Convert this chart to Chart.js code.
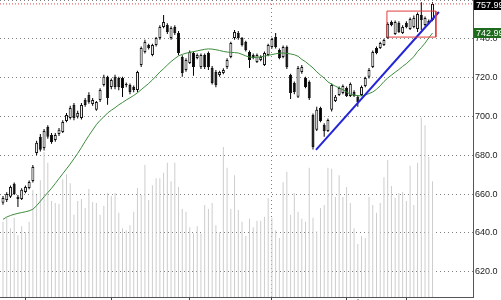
<!DOCTYPE html>
<html>
<head>
<meta charset="utf-8">
<script src="https://cdn.jsdelivr.net/npm/chart.js@4.4.1/dist/chart.umd.min.js"></script>
<style>
  html, body { margin:0; padding:0; background:#fff; overflow:hidden; }
  canvas { display:block; }
</style>
</head>
<body>
<canvas id="chart" width="501" height="300"></canvas>
<script>
// ── DATA ─────────────────────────────────────────────────────────
// one entry per trading day, oldest first
const openP = [
  655.5,657.0,658.6,665.3,658.6,657.5,661.1,663.2,666.8,681.2,
  689.5,683.8,694.6,690.5,687.9,691.0,692.0,697.7,699.2,705.9,
  699.8,699.2,708.5,711.1,706.4,703.4,708.5,716.2,720.4,715.2,
  720.4,719.8,719.8,716.2,716.2,715.2,713.7,726.5,733.2,736.8,
  731.7,736.8,740.4,746.1,747.1,740.4,746.1,743.0,730.6,724.0,
  727.6,732.7,730.1,725.5,731.7,732.7,725.0,722.9,721.4,722.4,
  725.5,730.6,740.4,743.0,740.4,738.4,733.2,731.7,728.1,729.1,
  726.5,731.7,735.8,740.9,734.3,730.6,735.8,721.4,717.3,710.1,
  722.9,719.8,717.8,700.8,693.1,704.4,695.6,692.5,703.4,708.0,
  711.1,712.1,714.7,710.6,712.6,710.1,711.1,715.7,720.4,725.5,
  735.3,735.3,736.8,740.4,748.7,742.5,748.2,743.0,748.2,745.1,
  746.1,745.1,752.3,747.1,748.2,749.7
];
const highP = [
  659.0,661.0,664.5,666.0,659.5,663.0,664.5,667.0,675.0,687.5,
  691.0,693.5,695.5,691.5,691.5,694.0,698.0,701.8,705.5,707.0,
  703.0,707.0,709.5,712.5,709.5,708.0,714.5,721.5,721.0,719.5,
  721.5,720.5,720.5,717.5,717.0,716.0,723.5,736.0,739.5,737.5,
  737.5,741.0,747.0,752.3,748.0,746.5,747.0,744.0,731.5,730.0,
  734.0,733.5,732.5,732.5,732.5,733.5,726.0,724.0,723.5,724.8,
  730.0,738.5,744.5,744.0,741.0,739.0,734.0,732.5,732.5,731.5,
  733.5,737.5,740.5,743.0,735.0,736.5,736.5,722.0,718.0,726.0,
  726.5,720.5,718.5,701.5,705.0,705.0,696.5,699.0,717.0,711.0,
  715.5,716.5,715.5,717.5,713.5,711.0,716.0,720.5,725.0,734.0,
  736.0,738.5,740.0,748.5,749.5,749.5,749.0,747.0,749.0,751.0,
  752.0,753.5,758.8,751.5,750.0,758.8
];
const lowP = [
  654.5,656.0,658.0,659.5,653.4,657.0,660.5,662.5,666.0,680.0,
  682.0,682.5,688.5,686.0,687.0,690.0,691.5,697.0,698.5,698.0,
  699.0,698.5,705.0,706.5,705.5,703.0,707.5,715.5,706.0,714.0,
  714.0,713.5,710.0,715.0,711.5,712.5,712.5,725.5,732.5,734.5,
  731.0,736.0,739.5,745.5,742.5,739.5,742.0,731.5,720.5,723.0,
  727.0,721.0,729.5,724.5,724.5,724.0,716.5,715.0,720.5,721.8,
  724.5,730.0,739.5,739.5,736.0,733.5,725.0,729.5,727.5,728.5,
  726.0,731.0,735.0,735.0,729.5,730.0,724.5,709.0,711.5,709.5,
  722.0,714.5,708.5,683.0,692.5,697.0,689.5,692.0,702.5,707.5,
  710.5,711.5,710.0,710.0,710.0,705.0,710.5,715.0,719.5,725.0,
  732.0,734.8,736.3,740.0,746.5,742.0,743.0,742.5,745.5,744.5,
  745.5,743.5,744.5,746.5,747.5,749.0
];
const closeP = [
  658.0,660.1,663.7,660.1,657.5,662.2,663.7,666.3,674.0,686.4,
  682.8,692.5,689.5,686.9,690.5,693.1,697.2,700.8,704.4,699.2,
  701.8,705.9,705.9,707.5,708.5,707.5,713.7,720.4,709.5,718.8,
  715.2,715.2,714.7,716.7,712.6,713.7,722.9,735.3,738.4,735.3,
  736.8,740.4,746.1,748.7,743.5,745.6,743.0,732.7,722.4,729.1,
  733.2,725.5,731.7,731.7,725.5,725.5,717.3,716.2,722.9,724.0,
  729.1,737.9,743.5,740.4,736.8,734.3,729.1,730.1,731.7,730.6,
  732.7,736.8,739.9,735.8,730.1,735.8,725.5,712.1,712.6,725.0,
  725.5,715.2,709.5,684.3,703.4,697.7,692.5,698.2,716.2,710.1,
  714.7,715.7,710.6,716.7,710.6,707.5,715.2,719.8,724.0,733.2,
  732.7,737.9,739.4,747.6,747.1,748.7,743.5,746.1,746.1,750.2,
  750.7,752.8,749.7,750.7,749.2,757.99
];
// volume, millions of shares
const volume = [
  1.52,1.60,1.39,1.60,1.25,1.43,1.31,1.52,2.16,2.06,
  2.36,2.93,2.71,1.94,1.90,1.88,2.38,2.48,2.30,1.66,
  1.94,1.98,1.80,2.18,1.92,1.90,1.66,1.84,2.10,2.04,
  2.10,1.70,1.39,1.35,1.45,1.72,2.20,2.06,2.67,1.96,
  2.26,2.40,2.40,2.51,2.71,2.34,2.71,2.22,1.78,1.72,
  1.41,1.29,1.43,1.29,1.86,1.78,1.90,1.45,1.31,3.03,
  2.61,1.78,2.46,1.76,1.52,1.23,1.58,1.41,1.54,1.54,
  1.62,2.00,1.60,1.35,1.19,2.32,2.53,1.66,2.10,1.72,
  1.58,1.52,2.61,1.60,1.33,1.80,1.86,2.61,2.59,2.02,
  2.46,2.02,2.22,1.90,1.39,1.07,1.23,1.19,2.02,1.86,
  1.70,1.90,2.42,2.77,2.24,2.00,2.10,2.12,1.94,2.65,
  1.86,2.71,3.62,3.47,2.83,2.34
];
// moving average as drawn on the chart
const ma20 = [
  647.0,648.2,649.0,649.6,650.1,650.5,650.9,651.4,652.2,654.0,
  656.3,658.6,660.8,663.0,665.5,668.0,670.5,673.0,675.5,678.2,
  681.0,684.0,687.2,690.2,693.0,695.8,698.0,699.8,701.8,703.2,
  704.5,706.0,707.2,708.5,709.6,710.8,712.2,713.8,715.4,717.0,
  718.8,720.8,722.9,724.6,726.5,728.3,729.8,731.2,732.0,732.6,
  733.0,733.4,733.8,734.2,734.6,734.8,734.7,734.4,734.0,733.5,
  733.2,733.0,732.9,732.7,732.0,731.2,730.6,730.4,730.5,730.7,
  731.1,731.5,731.9,732.3,732.6,732.7,732.5,732.2,731.8,731.0,
  729.4,728.2,726.6,725.0,723.0,721.3,719.8,717.8,716.6,715.6,
  714.7,713.8,712.6,711.5,711.0,710.7,710.6,711.0,711.8,712.6,
  714.0,715.8,718.0,719.8,721.3,722.8,724.2,725.8,727.2,729.0,
  730.8,733.5,735.5,737.8,740.5,742.99
];
// month boundaries (bar index) and their labels
const monthTicks  = [6, 29, 50, 72, 92, 108];
const monthLabels = ['Oct', 'Nov', 'Dec', '2016', 'Feb', 'Mar'];
const yearTick = 72;
// drawn trend line and consolidation box (bar index, price)
const trendX = [83.8, 116.7];
const trendY = [682.8, 753.8];
const boxX = [102.8, 115.9, 115.9, 102.8, 102.8];
const boxY = [754.3, 754.3, 740.9, 740.9, 754.3];

const X_MIN = -0.8, X_MAX = 125.84;
const Y_MIN = 607, Y_MAX = 760;

// ── BUILD ────────────────────────────────────────────────────────
Chart.defaults.font.family = '"Liberation Sans", Arial, sans-serif';
const N = closeP.length;
const last = N - 1;

const volData  = volume.map((v, i) => ({ x: i, y: v }));
const wickData = closeP.map((c, i) => ({ x: i, y: [lowP[i], highP[i]] }));
const bodyData = closeP.map((c, i) => {
  let lo = Math.min(openP[i], c), hi = Math.max(openP[i], c);
  if (hi - lo < 0.6) { const m = (hi + lo) / 2; lo = m - 0.3; hi = m + 0.3; }
  return { x: i, y: [lo, hi] };
});
const bodyFill = closeP.map((c, i) => c >= openP[i] ? '#ffffff' : '#000000');
const maData    = ma20.map((v, i) => ({ x: i, y: v }));
const trendData = trendX.map((x, i) => ({ x, y: trendY[i] }));
const boxData   = boxX.map((x, i) => ({ x, y: boxY[i] }));
const lastLine  = [{ x: X_MIN, y: closeP[last] }, { x: X_MAX, y: closeP[last] }];

const priceTags = {
  id: 'priceTags',
  afterDraw(chart) {
    const { ctx, chartArea, scales: { y } } = chart;
    const tags = [[closeP[last], '#000000'], [ma20[last], '#1d6a1d']];
    ctx.save();
    ctx.font = '9px "Liberation Sans", Arial, sans-serif';
    ctx.textBaseline = 'middle';
    tags.forEach(([v, bg]) => {
      const py = Math.round(y.getPixelForValue(v));
      const top = Math.max(0, py - 5);
      ctx.fillStyle = bg;
      ctx.fillRect(chartArea.right + 1, top, chart.width - chartArea.right - 1, 10);
      ctx.fillStyle = '#ffffff';
      ctx.fillText(v.toFixed(2), chartArea.right + 3, top + 5.5);
    });
    ctx.restore();
  }
};

new Chart(document.getElementById('chart'), {
  type: 'bar',
  data: {
    datasets: [
      { type:'bar', data:volData, yAxisID:'yVol', backgroundColor:'#cdcdcd', barThickness:1, inflateAmount:0, grouped:false, order:6 },
      { type:'bar', data:wickData, yAxisID:'y', backgroundColor:'#000000', barThickness:1, inflateAmount:0, grouped:false, order:5 },
      { type:'bar', data:bodyData, yAxisID:'y', backgroundColor:bodyFill, borderColor:'#111', borderWidth:1, borderSkipped:false, barThickness:3, inflateAmount:0, grouped:false, order:4 },
      { type:'line', data:maData, yAxisID:'y', borderColor:'#3b8c3b', borderWidth:1, pointRadius:0, tension:0, order:3 },
      { type:'line', data:lastLine, yAxisID:'y', borderColor:'#e04848', borderWidth:1, borderDash:[1,2], pointRadius:0, order:2 },
      { type:'line', data:boxData, yAxisID:'y', borderColor:'#e03c3c', borderWidth:1, pointRadius:0, order:1 },
      { type:'line', data:trendData, yAxisID:'y', borderColor:'#2424d8', borderWidth:2, pointRadius:0, order:1 }
    ]
  },
  options: {
    responsive:false, animation:false,
    layout:{ padding:0 },
    plugins:{ legend:{ display:false }, tooltip:{ enabled:false } },
    scales:{
      x:{
        type:'linear', min:X_MIN, max:X_MAX, offset:false,
        afterBuildTicks: s => { s.ticks = monthTicks.map(v => ({ value:v })); },
        afterFit: s => { s.height = 3; s.paddingLeft = 0; s.paddingRight = 0; },
        ticks:{ autoSkip:false, maxRotation:0, align:'start', padding:-2, color:'#333', font:{ size:9 },
                callback:(v, i) => monthLabels[i] },
        grid:{ offset:false, drawTicks:true, tickLength:3, tickColor:'#444',
               color: c => (c.tick && c.tick.value === yearTick) ? '#808080' : 'rgba(0,0,0,0)' },
        border:{ display:true, color:'#555', width:1, dash:[1,3] }
      },
      y:{
        position:'right', min:Y_MIN, max:Y_MAX,
        afterFit: s => { s.width = 28; s.paddingTop = 0; s.paddingBottom = 0; },
        ticks:{ stepSize:20, includeBounds:false, padding:2, color:'#222', font:{ size:9 },
                callback: v => v >= Y_MAX ? '' : v.toFixed(1) },
        grid:{ drawTicks:false, color:'#808080' },
        border:{ display:true, color:'#555', width:1, dash:[1,3] }
      },
      yVol:{ display:false, min:0, max:6 }
    }
  },
  plugins:[priceTags]
});
</script>
</body>
</html>
